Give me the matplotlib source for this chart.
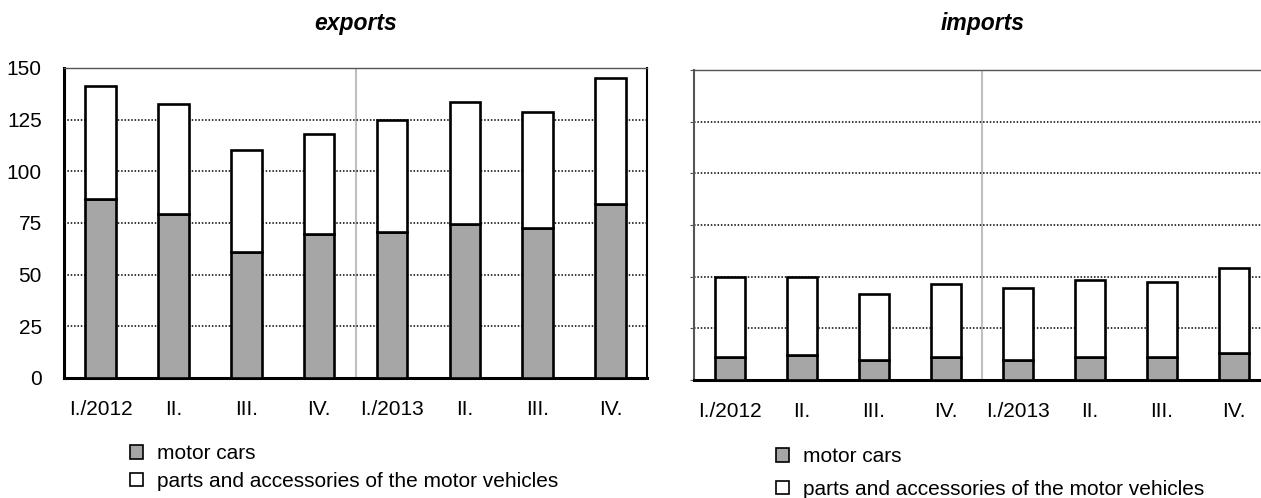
import matplotlib
matplotlib.use('Agg')
import matplotlib.pyplot as plt
from matplotlib.patches import Patch

plt.rcParams['font.family'] = ['Liberation Sans', 'DejaVu Sans']

quarters = ['I./2012', 'II.', 'III.', 'IV.', 'I./2013', 'II.', 'III.', 'IV.']

exports_cars = [86.7, 79.3, 61.0, 69.7, 70.5, 74.5, 72.5, 84.0]
exports_total = [141.3, 132.4, 110.1, 117.9, 124.7, 133.5, 128.5, 145.0]

imports_cars = [11.0, 12.0, 9.5, 11.0, 9.5, 11.0, 11.0, 13.0]
imports_total = [50.0, 50.0, 41.5, 46.3, 44.4, 48.2, 47.3, 54.0]

GREY = '#a6a6a6'
FS = 15


def draw_panel(ax, cars, total, show_yticks):
    xs = list(range(len(quarters)))
    parts = [t - c for t, c in zip(total, cars)]
    ax.bar(xs, cars, width=0.42, color=GREY, edgecolor='black', linewidth=1.9, zorder=3)
    ax.bar(xs, parts, width=0.42, bottom=cars, color='white', edgecolor='black',
           linewidth=1.9, zorder=3)
    ax.set_xlim(-0.5, len(quarters) - 0.5)
    ax.set_ylim(0, 150)
    ax.set_yticks([0, 25, 50, 75, 100, 125, 150])
    ax.yaxis.grid(True, linestyle=(0, (1, 1.2)), color='black', linewidth=1.1, zorder=0)
    ax.axvline(3.5, color='#bfbfbf', linewidth=1.5, zorder=1)
    ax.set_xticks(xs)
    ax.set_xticklabels(quarters, fontsize=FS)
    ax.tick_params(axis='x', length=0, pad=16)
    if show_yticks:
        ax.tick_params(axis='y', length=0, labelsize=FS, pad=16)
        ax.spines['left'].set_linewidth(2.2)
        ax.spines['right'].set_linewidth(1.5)
    else:
        ax.tick_params(axis='y', length=3, labelleft=False, color='#555555')
        ax.spines['left'].set_linewidth(1.5)
        ax.spines['left'].set_color('#555555')
        ax.spines['right'].set_visible(False)
    ax.spines['bottom'].set_linewidth(2.2)
    ax.spines['top'].set_linewidth(1.0)
    ax.spines['top'].set_color('#555555')


fig = plt.figure(figsize=(12.61, 4.98), dpi=100)
ax1 = fig.add_axes([0.0508, 0.241, 0.4623, 0.6225])
ax2 = fig.add_axes([0.5504, 0.237, 0.4568, 0.6225])

draw_panel(ax1, exports_cars, exports_total, True)
draw_panel(ax2, imports_cars, imports_total, False)

fig.text(0.282, 0.953, 'exports', ha='center', va='center', fontsize=16.5,
         fontweight='bold', fontstyle='italic')
fig.text(0.779, 0.953, 'imports', ha='center', va='center', fontsize=16.5,
         fontweight='bold', fontstyle='italic')

handles = [Patch(facecolor=GREY, edgecolor='black', linewidth=1.2),
           Patch(facecolor='white', edgecolor='black', linewidth=1.2)]
labels = ['motor cars', 'parts and accessories of the motor vehicles']

fig.legend(handles, labels, loc='upper left', bbox_to_anchor=(0.1031, 0.108),
           frameon=False, fontsize=FS, handlelength=0.62, handleheight=0.62,
           handletextpad=0.67, labelspacing=0.42, borderaxespad=0, borderpad=0)
fig.legend(handles, labels, loc='upper left', bbox_to_anchor=(0.6154, 0.102),
           frameon=False, fontsize=FS, handlelength=0.62, handleheight=0.62,
           handletextpad=0.67, labelspacing=0.66, borderaxespad=0, borderpad=0)

fig.savefig('out.png', dpi=100)
